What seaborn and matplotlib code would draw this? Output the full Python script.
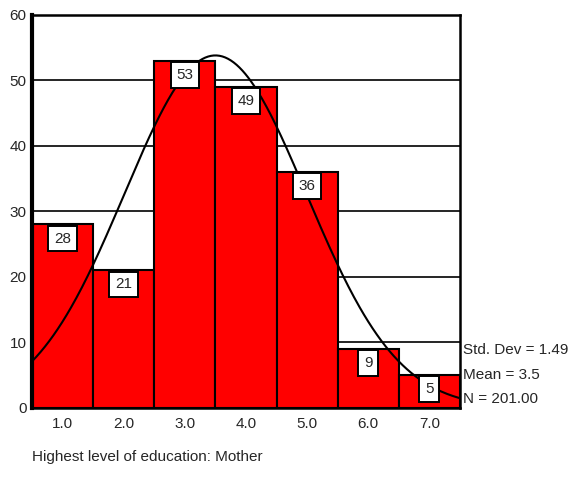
import matplotlib
matplotlib.use('Agg')
import matplotlib.pyplot as plt
import numpy as np
import pandas as pd
import seaborn as sns

# Data
levels = ['1.0', '2.0', '3.0', '4.0', '5.0', '6.0', '7.0']
counts = [28, 21, 53, 49, 36, 9, 5]
std_dev = 1.49
mean = 3.5
n_total = 201

df = pd.DataFrame({'level': levels, 'count': counts})

sns.set_style('white')
plt.rcParams['font.family'] = ['Liberation Sans', 'DejaVu Sans']

fig = plt.figure(figsize=(5.72, 4.82), dpi=100)
ax = fig.add_axes([0.056, 0.154, 0.748, 0.815])

# gridlines behind bars
for g in [10, 20, 30, 40, 50]:
    ax.axhline(g, color='black', lw=1.2, zorder=0)

sns.barplot(data=df, x='level', y='count', color='#FF0000', width=1.0,
            edgecolor='black', linewidth=1.5, saturation=1, ax=ax, zorder=2)

# value labels in white boxes
for i, c in enumerate(counts):
    ax.text(i, c - 1.1, str(c), ha='center', va='top', fontsize=11, zorder=5,
            bbox=dict(boxstyle='square,pad=0.38', fc='white', ec='black', lw=1.4))

# normal curve from the shown statistics (bin width 1)
xs = np.linspace(0.5, 7.5, 300)
ys = n_total / (std_dev * np.sqrt(2 * np.pi)) * np.exp(-(xs - mean) ** 2 / (2 * std_dev ** 2))
ax.plot(xs - 1, ys, color='black', lw=1.5, zorder=4)

ax.set_xlim(-0.5, 6.5)
ax.set_ylim(0, 60)
ax.set_yticks([0, 10, 20, 30, 40, 50, 60])
ax.set_xlabel('')
ax.set_ylabel('')
ax.tick_params(axis='both', labelsize=11, length=3, width=1.5, color='black',
               direction='out')
ax.tick_params(axis='y', pad=1)
ax.tick_params(axis='x', pad=4)
for side in ['top', 'right', 'bottom']:
    ax.spines[side].set_color('black')
    ax.spines[side].set_linewidth(1.8)
ax.spines['left'].set_color('black')
ax.spines['left'].set_linewidth(3)

# stats text on the right
fig.text(0.809, 0.274, 'Std. Dev = 1.49', fontsize=11, va='center')
fig.text(0.809, 0.222, 'Mean = 3.5', fontsize=11, va='center')
fig.text(0.809, 0.172, 'N = 201.00', fontsize=11, va='center')

fig.text(0.056, 0.052, 'Highest level of education: Mother', fontsize=11, va='center')

fig.savefig('out.png', dpi=100)
